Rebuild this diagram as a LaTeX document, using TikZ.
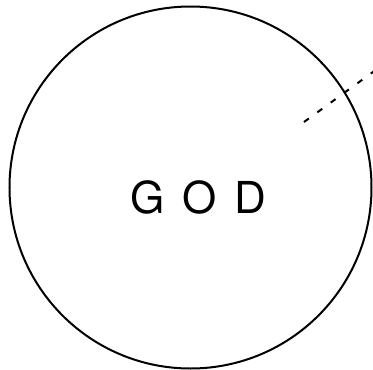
\documentclass[tikz,border=0pt]{standalone}
\usepackage{fontspec}
\setmainfont{TeX Gyre Heros}
\begin{document}
\begin{tikzpicture}[x=1pt,y=-1pt,
  rim/.style={draw=black,line width=2pt},
  ray/.style={draw=black,line width=2pt,dash pattern=on 6pt off 10.5pt},
  label/.style={font=\fontsize{44}{44}\selectfont,inner sep=0pt}]
\useasboundingbox (0,0) rectangle (373,370);
\clip (0,0) rectangle (373,370);
\coordinate (c) at (190.5,187.5);
\draw[rim] (c) circle[radius=181];
\node[label] (god) at (198.5,197.5) {G\hspace{17pt}O\hspace{18pt}D};
\coordinate (rs) at (304,122);
\coordinate (re) at (380,66.9);
\draw[ray] (rs) -- (re);
\end{tikzpicture}
\end{document}
